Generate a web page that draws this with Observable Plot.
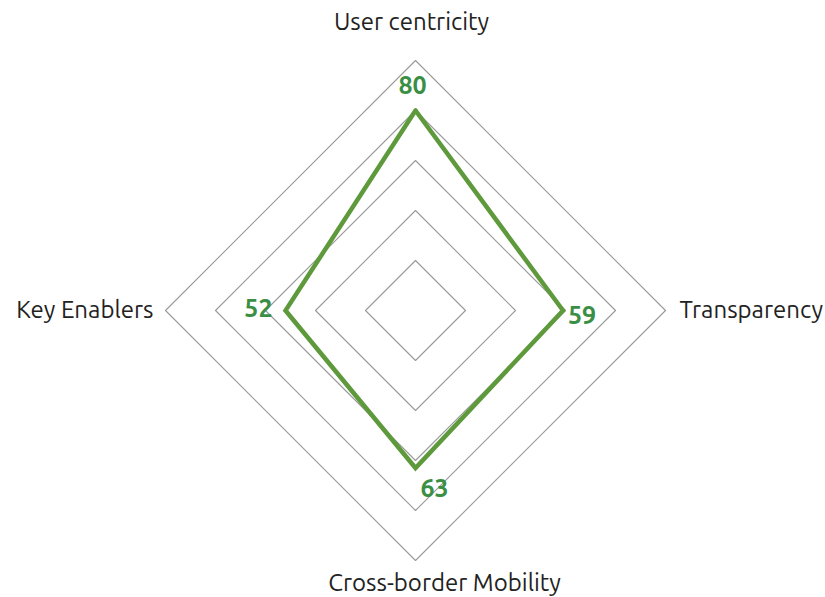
<!DOCTYPE html>
<html>
<head>
<meta charset="utf-8">
<script src="https://cdn.jsdelivr.net/npm/d3@7"></script>
<script src="https://cdn.jsdelivr.net/npm/@observablehq/plot@0.6"></script>
<style>
body{margin:0;background:#fff;}
#chart svg{display:block;}
</style>
</head>
<body>
<div id="chart"></div>
<script>
const categories = ["User centricity", "Transparency", "Cross-border Mobility", "Key Enablers"];
const values = [80, 59, 63, 52];
const gridLevels = [20, 40, 60, 80, 100];
const maxValue = 100;

const W = 825, H = 597;
const cx = 415, cy = 310, R = 250;
const unit = R / maxValue;
const angles = categories.map((_, i) => Math.PI / 2 - i * Math.PI / 2);
const pt = (v, i) => ({x: v * Math.cos(angles[i]), y: v * Math.sin(angles[i])});

const grid = [];
gridLevels.forEach(l => {
  for (let i = 0; i <= categories.length; i++) {
    const k = i % categories.length;
    grid.push({level: l, ...pt(l, k)});
  }
});
const series = [];
for (let i = 0; i <= categories.length; i++) {
  const k = i % categories.length;
  series.push({...pt(values[k], k)});
}
const valueLabels = values.map((v, i) => ({...pt(v, i), text: String(v), i}));
const catLabels = categories.map((c, i) => ({...pt(maxValue, i), text: c, i}));

const xDom = [-cx / unit, (W - cx) / unit];
const yDom = [-(H - cy) / unit, cy / unit];

const font = "Ubuntu, 'Open Sans', 'DejaVu Sans', sans-serif";
const green = "#5e9a3c";
const labelGreen = "#3b8f45";

const vOff = [{dx: -3, dy: -25, anchor: "middle"}, {dx: 5, dy: 5, anchor: "start"}, {dx: 5, dy: 21, anchor: "start"}, {dx: -13, dy: -2, anchor: "end"}];
const cOff = [{dx: -4, dy: -38, anchor: "middle"}, {dx: 14, dy: 0, anchor: "start"}, {dx: 29, dy: 23, anchor: "middle"}, {dx: -12, dy: 0, anchor: "end"}];

const chart = Plot.plot({
  width: W, height: H,
  margin: 0,
  x: {domain: xDom, axis: null},
  y: {domain: yDom, axis: null},
  style: {fontFamily: font, background: "#fff"},
  marks: [
    Plot.line(grid, {x: "x", y: "y", z: "level", stroke: "#999999", strokeWidth: 1.1}),
    Plot.line(series, {x: "x", y: "y", stroke: green, strokeWidth: 4.5, strokeLinejoin: "miter", strokeMiterlimit: 10}),
    ...valueLabels.map((d) => Plot.text([d], {x: "x", y: "y", text: "text", dx: vOff[d.i].dx, dy: vOff[d.i].dy, textAnchor: vOff[d.i].anchor, fill: labelGreen, fontSize: 25, fontWeight: "bold"})),
    ...catLabels.map((d) => Plot.text([d], {x: "x", y: "y", text: "text", dx: cOff[d.i].dx, dy: cOff[d.i].dy, textAnchor: cOff[d.i].anchor, fill: "#222", fontSize: 24}))
  ]
});
document.getElementById("chart").appendChild(chart);
</script>
</body>
</html>
